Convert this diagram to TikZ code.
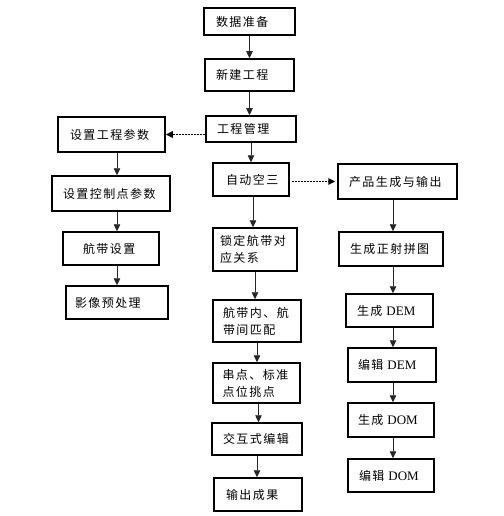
\documentclass[tikz,border=0pt]{standalone}
\usepackage{fontspec}
\setmainfont{Liberation Serif}
\newfontfamily\cjk[LetterSpace=12]{Noto Sans CJK SC}
\usetikzlibrary{arrows.meta}
\newcommand{\latn}[1]{{\rmfamily\fontsize{13}{17}\selectfont #1}}
\tikzset{
  box/.style={draw=black, line width=1.5pt, align=left, inner ysep=0pt,
    font=\cjk\fontsize{12}{17}\selectfont},
  arr/.style={-{Triangle[length=7pt,width=6.5pt]}, line width=0.7pt, draw=black!85},
  dotarr/.style={-{Triangle[length=7pt,width=6.5pt]}, line width=1.5pt,
    dash pattern=on 0.9pt off 0.6pt, draw=black}
}
\begin{document}
\begin{tikzpicture}[x=1pt,y=-1pt]
\useasboundingbox[fill=white] (0,0) rectangle (503,516);
% centre column
\node[box, minimum height=27pt, inner xsep=12pt, text width=67pt] (sj) at (249.5,21.5) {数据准备};
\node[box, minimum height=32pt, inner xsep=11pt, text width=67pt] (xj) at (249.5,75) {新建工程};
\node[box, minimum height=26pt, inner xsep=11pt, text width=68pt] (gl) at (251,129) {工程管理};
\node[box, minimum height=33pt, inner xsep=13pt, text width=50pt] (zd) at (251,179.5) {自动空三};
\node[box, minimum height=43pt, inner xsep=7pt, text width=70pt] (sd) at (255,249.5) {锁定航带对\\应关系};
\node[box, minimum height=42pt, inner xsep=10pt, text width=68pt] (hn) at (257,321) {航带内、航\\带间匹配};
\node[box, minimum height=40pt, inner xsep=9.5pt, text width=68pt] (cd) at (256.5,383) {串点、标准\\点位挑点};
\node[box, minimum height=32pt, inner xsep=11pt, text width=68pt] (jh) at (257,439) {交互式编辑};
\node[box, minimum height=33pt, inner xsep=12pt, text width=64pt] (sc) at (258,494.5) {输出成果};
% left column
\node[box, minimum height=35pt, inner xsep=12pt, text width=83pt] (cs) at (111.5,134.5) {设置工程参数};
\node[box, minimum height=35pt, inner xsep=11pt, text width=96pt] (kz) at (111,193.5) {设置控制点参数};
\node[box, minimum height=33pt, inner xsep=20pt, text width=56pt] (hd) at (111,248.5) {航带设置};
\node[box, minimum height=33pt, inner xsep=9pt, text width=84pt] (yx) at (117,302.5) {影像预处理};
% right column
\node[box, minimum height=35pt, inner xsep=11pt, text width=97pt] (cp) at (397.5,181.5) {产品生成与输出};
\node[box, minimum height=34pt, inner xsep=11pt, text width=82pt] (zs) at (391,249) {生成正射拼图};
\node[box, minimum height=33pt, inner xsep=11pt, text width=65pt] (dem) at (389.5,310.5) {生成 \latn{DEM}};
\node[box, minimum height=34pt, inner xsep=10pt, text width=68pt] (edem) at (392,365) {编辑 \latn{DEM}};
\node[box, minimum height=34pt, inner xsep=10pt, text width=66pt] (dom) at (391,420) {生成 \latn{DOM}};
\node[box, minimum height=33pt, inner xsep=11pt, text width=64pt] (edom) at (391,475.5) {编辑 \latn{DOM}};
% column axes
\coordinate (lx) at (117,0);
\coordinate (rx) at (393,0);
% centre arrows
\draw[arr] (sj.south) -- (sj.south |- xj.north);
\draw[arr] (xj.south) -- (xj.south |- gl.north);
\draw[arr] (gl.south) -- (gl.south |- zd.north);
\draw[arr] ([xshift=2pt]zd.south) -- ([xshift=2pt]zd.south |- sd.north);
\draw[arr] (sd.south) -- (sd.south |- hn.north);
\draw[arr] (hn.south) -- (hn.south |- cd.north);
\draw[arr] ([xshift=2pt]cd.south) -- ([xshift=2pt]cd.south |- jh.north);
\draw[arr] (jh.south) -- (jh.south |- sc.north);
% left arrows
\draw[arr] (cs.south -| lx) -- (kz.north -| lx);
\draw[arr] (kz.south -| lx) -- (hd.north -| lx);
\draw[arr] (hd.south -| lx) -- (yx.north -| lx);
% right arrows
\draw[arr] (cp.south -| rx) -- (zs.north -| rx);
\draw[arr] (zs.south -| rx) -- (dem.north -| rx);
\draw[arr] (dem.south -| rx) -- (edem.north -| rx);
\draw[arr] (edem.south -| rx) -- (dom.north -| rx);
\draw[arr] (dom.south -| rx) -- (edom.north -| rx);
% dotted arrows
\draw[dotarr] (gl.west |- cs.east) -- (cs.east);
\draw[dotarr] ([xshift=2pt]zd.east |- cp.west) -- ([xshift=-2pt]cp.west);
\end{tikzpicture}
\end{document}
